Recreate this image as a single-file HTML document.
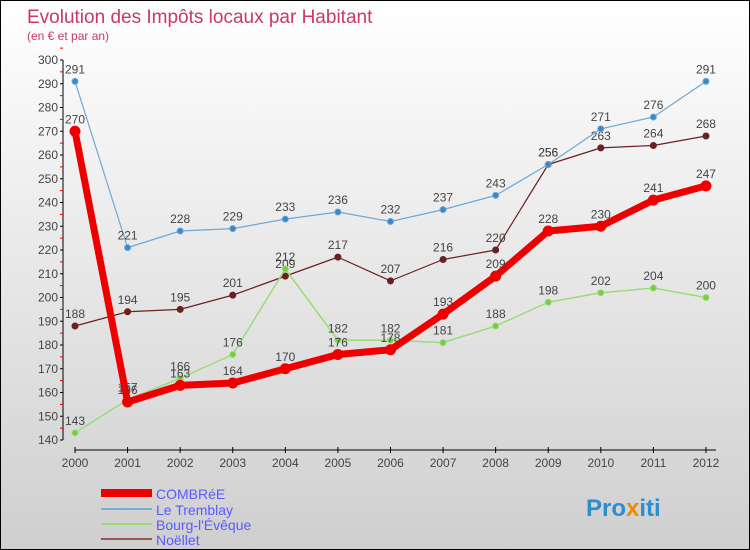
<!DOCTYPE html>
<html><head><meta charset="utf-8"><style>
body{margin:0}
#c{width:750px;height:550px;position:relative;box-sizing:border-box;border:1px solid #000;background:linear-gradient(#ffffff,#cfcfcf);font-family:"Liberation Sans",sans-serif;overflow:hidden}
</style></head><body>
<div id="c">
<svg id="s" width="748" height="548" xmlns="http://www.w3.org/2000/svg">
<text x="26" y="22" font-size="19" fill="#c8386a">Evolution des Impôts locaux par Habitant</text>
<text x="26" y="39" font-size="12" fill="#c8386a">(en € et par an)</text>
<g id="axes"></g><g id="series"></g>
<g>
<rect x="100" y="488" width="51" height="8" fill="#e00"/>
<text x="155" y="498" font-size="14" fill="#5a5aff">COMBRéE</text>
<rect x="100" y="507" width="51" height="2" fill="#7aaed0"/>
<text x="155" y="514" font-size="14" fill="#5a5aff">Le Tremblay</text>
<rect x="100" y="522" width="51" height="2" fill="#99dd77"/>
<text x="155" y="529" font-size="14" fill="#5a5aff">Bourg-l'Évêque</text>
<rect x="100" y="537" width="51" height="2" fill="#995555"/>
<text x="155" y="544" font-size="14" fill="#5a5aff">Noëllet</text>
</g>
<text x="585" y="515" font-size="24" font-weight="bold" fill="#2a8fd0">Pro<tspan fill="#f08a00">x</tspan>iti</text>
</svg>
</div>
<script>
const years=[2000,2001,2002,2003,2004,2005,2006,2007,2008,2009,2010,2011,2012];
const yTicks=[140,150,160,170,180,190,200,210,220,230,240,250,260,270,280,290,300];
const combree=[270,156,163,164,170,176,178,193,209,228,230,241,247];
const tremblay=[291,221,228,229,233,236,232,237,243,256,271,276,291];
const bourg=[143,157,166,176,212,182,182,181,188,198,202,204,200];
const noellet=[188,194,195,201,209,217,207,216,220,256,263,264,268];
const NS="http://www.w3.org/2000/svg";
function X(yr){return 74+(yr-2000)*52.58;}
function Y(v){return 59+(300-v)*2.375;}
function mk(t,a,p){const e=document.createElementNS(NS,t);for(const k in a)e.setAttribute(k,a[k]);p.appendChild(e);return e;}
const ax=document.getElementById('axes');
let l=mk('line',{x1:62,y1:Y(300),x2:62,y2:Y(140),stroke:'#000'},ax);


yTicks.forEach(v=>{const t=mk('line',{x1:59,y1:Y(v),x2:62,y2:Y(v),stroke:'#000'},ax);


const r=mk('line',{x1:59,y1:Y(v+5),x2:62,y2:Y(v+5),stroke:'#e00'},ax);


const tx=mk('text',{x:57,y:Y(v)+4,'text-anchor':'end','font-size':12,fill:'#444'},ax);tx.textContent=v;

});
l=mk('line',{x1:X(2000),y1:449,x2:X(2012)+10,y2:449,stroke:'#000'},ax);


years.forEach(yr=>{const t=mk('line',{x1:X(yr),y1:446,x2:X(yr),y2:452,stroke:'#000'},ax);


const tx=mk('text',{x:X(yr),y:466,'text-anchor':'middle','font-size':12,fill:'#444'},ax);tx.textContent=yr;

});
const sg=document.getElementById('series');
function draw(name,data,col,w,r,dot){
const g=mk('g',{},sg);


const pl=mk('polyline',{points:data.map((v,i)=>X(years[i])+','+Y(v)).join(' '),fill:'none',stroke:col,'stroke-width':w,'stroke-linejoin':'round'},g);


data.forEach((v,i)=>{const c=mk('circle',{cx:X(years[i]),cy:Y(v),r:r,fill:dot,stroke:col,'stroke-width':1},g);


const t=mk('text',{x:X(years[i]),y:Y(v)-8,'text-anchor':'middle','font-size':12,fill:'#444'},g);t.textContent=v;

});}
draw('noellet',noellet,'#6b2020',1.2,3,'#6b2020');
draw('bourg',bourg,'#99dd77',1.5,3,'#77cc44');
draw('tremblay',tremblay,'#6fa8d6',1.2,3,'#3a86c8');
draw('combree',combree,'#ee0000',7,5,'#ee0000');
</script>
</body></html>
